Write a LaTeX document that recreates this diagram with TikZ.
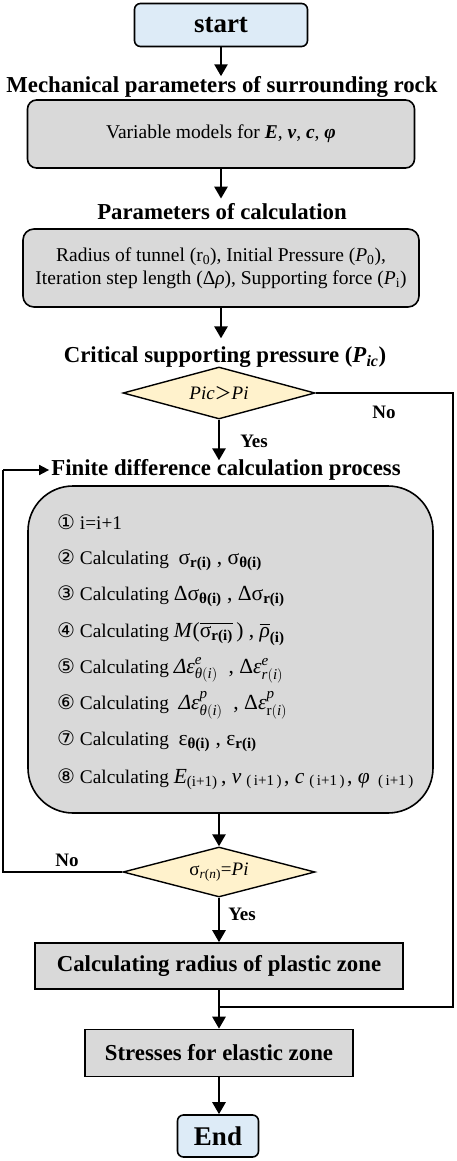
\documentclass[tikz,border=0pt]{standalone}
\usepackage{fontspec}
\usepackage{amsmath}
\setmainfont{Liberation Serif}
\newfontfamily\dejavu{DejaVu Sans}
\newfontfamily\cjk{Noto Sans CJK SC}
\usetikzlibrary{shapes.geometric,arrows.meta}
\definecolor{startblue}{RGB}{221,235,247}
\definecolor{boxgray}{RGB}{217,217,217}
\definecolor{decyellow}{RGB}{255,242,204}
\newcommand{\cnum}[1]{{\dejavu\fontsize{20}{22}\selectfont #1}}
\newcommand{\fm}[1]{{\fontsize{21.5}{23}\selectfont #1}}
\newcommand{\fwp}{\raisebox{-2.5pt}{\fontsize{15}{15}\selectfont\,\,(\,i+1\,)\,}}
\tikzset{
 term/.style={draw, line width=1.6pt, rounded corners=6pt, fill=startblue, inner sep=0pt, font=\fontsize{27}{30}\selectfont\bfseries},
 graybox/.style={draw, line width=1.6pt, fill=boxgray, inner sep=0pt},
 titletext/.style={font=\fontsize{22.8}{26}\selectfont\bfseries, inner sep=0pt},
 decision/.style={diamond, draw, line width=1.4pt, fill=decyellow, inner sep=0pt, aspect=3.7},
 stepitem/.style={anchor=base west, inner sep=0pt, font=\fontsize{19.3}{22}\selectfont},
 lab/.style={font=\fontsize{19}{21}\selectfont\bfseries, inner sep=0pt},
 arr/.style={line width=2.6pt, -{Triangle[length=12pt,width=13pt]}},
 loopline/.style={line width=1.6pt},
}
\begin{document}
\begin{tikzpicture}[x=1pt,y=-1pt]
\useasboundingbox (0,0) rectangle (457,1161);
% nodes
\node[term, minimum width=173pt, minimum height=43pt] (start) at (221,25) {start};
\node[titletext] (t1) at (222,87) {Mechanical parameters of surrounding rock};
\node[graybox, rounded corners=9pt, minimum width=387pt, minimum height=68pt, font=\fontsize{19.5}{22}\selectfont] (b1) at (221,134)
 {Variable models for \textbf{\textit{E}}, \textbf{\textit{v}}, \textbf{\textit{c}}, \textbf{\textit{φ}}};
\node[titletext] (t2) at (222,212) {Parameters of calculation};
\node[graybox, rounded corners=11pt, minimum width=396pt, minimum height=78pt, align=center, font=\fontsize{19.5}{22.5}\selectfont] (b2) at (221,268)
 {Radius of tunnel (r\textsubscript{0}), Initial Pressure (\textit{P}\textsubscript{0}),\\
  Iteration step length (Δ\textit{ρ}), Supporting force (\textit{P}\textsubscript{i})};
\node[titletext] (t3) at (225,357) {Critical supporting pressure (\textit{P}\textsubscript{\textit{ic}})};
\node[decision, minimum width=192pt, minimum height=52pt, font=\fontsize{19}{21}\selectfont] (d1) at (219,393)
 {\textit{Pic}{\cjk\fontsize{17}{19}\selectfont ＞}\textit{Pi}};
\node[titletext] (t4) at (226,470) {Finite difference calculation process};
\node[graybox, rounded corners=45pt, minimum width=405pt, minimum height=327pt] (big) at (230.5,649.5) {};
\node[stepitem] (s1) at (57,529) {\cnum{①} i=i+1};
\node[stepitem] (s2) at (57,564) {\cnum{②} Calculating\ \ \fm{σ\textsubscript{\textbf{r(i)}} , σ\textsubscript{\textbf{θ(i)}}}};
\node[stepitem] (s3) at (57,600) {\cnum{③} Calculating \fm{Δσ\textsubscript{\textbf{θ(i)}} , Δσ\textsubscript{\textbf{r(i)}}}};
\node[stepitem] (s4) at (57,637) {\cnum{④} Calculating \fm{\textit{M}($\overline{\text{σ}_{\textbf{r(i)}}}$\,) , $\overline{\textit{ρ}}_{\textbf{(i)}}$}};
\node[stepitem] (s5) at (57,673) {\cnum{⑤} Calculating \fm{$\textit{Δε}^{\textit{e}}_{\textit{θ}(\textit{i})}$\ \ , $\text{Δ}\textit{ε}^{\textit{e}}_{\textit{r}(\textit{i})}$}};
\node[stepitem] (s6) at (57,709) {\cnum{⑥} Calculating\ \ \fm{$\textit{Δε}^{\textit{p}}_{\textit{θ}(\textit{i})}$\ \ , $\text{Δ}\textit{ε}^{\textit{p}}_{\text{r}(\textit{i})}$}};
\node[stepitem] (s7) at (57,745) {\cnum{⑦} Calculating\ \ \fm{ε\textsubscript{\textbf{θ(i)}} , ε\textsubscript{\textbf{r(i)}}}};
\node[stepitem] (s8) at (57,783) {\cnum{⑧} Calculating \fm{\textit{E}\textsubscript{(i+1)}\,, \textit{v}\fwp, \textit{c}\fwp, \textit{φ}\,\fwp}};
\node[decision, minimum width=192pt, minimum height=50pt, font=\fontsize{19}{21}\selectfont] (d2) at (219,872)
 {σ\textsubscript{\textit{r}(\textit{n})}=\textit{Pi}};
\node[graybox, minimum width=368pt, minimum height=46pt, font=\fontsize{22.8}{26}\selectfont\bfseries] (b3) at (219,966) {Calculating radius of plastic zone};
\node[graybox, minimum width=268pt, minimum height=47pt, font=\fontsize{22.8}{26}\selectfont\bfseries] (b4) at (219,1053) {Stresses for elastic zone};
\node[term, minimum width=81pt, minimum height=42pt] (end) at (218,1136) {End};
% labels
\node[lab] (no1) at (384,412) {No};
\node[lab] (yes1) at (254,441) {Yes};
\node[lab] (no2) at (67,860) {No};
\node[lab] (yes2) at (242,914) {Yes};
% connector helper coordinates
\coordinate (rtop) at (453,393);
\coordinate (rbot) at (453,1007);
\coordinate (join) at (219,1007);
\coordinate (ltop) at (3,470);
\coordinate (lbot) at (3,872);
% connectors
\draw[arr] (start.south) -- (start.south |- t1.north);
\draw[arr, shorten >=5pt] (b1.south) -- (b1.south |- t2.north);
\draw[arr, shorten >=8pt] (b2.south) -- (b2.south |- t3.north);
\draw[arr] (d1.south) -- ([yshift=-1pt]d1.south |- t4.north);
\draw[arr] (big.south -| d2.north) -- (d2.north);
\draw[arr] (d2.south) -- (b3.north);
\draw[arr] (b3.south) -- (b4.north);
\draw[arr] (b4.south) -- (b4.south |- end.north);
\draw[loopline] (d1.east) -- (rtop) -- (rbot) -- (join);
\draw[loopline] (d2.west) -- (lbot) -- (ltop);
\draw[loopline, -{Triangle[length=10pt,width=10pt]}] (ltop) -- ([xshift=-2pt]t4.west);
\end{tikzpicture}
\end{document}
